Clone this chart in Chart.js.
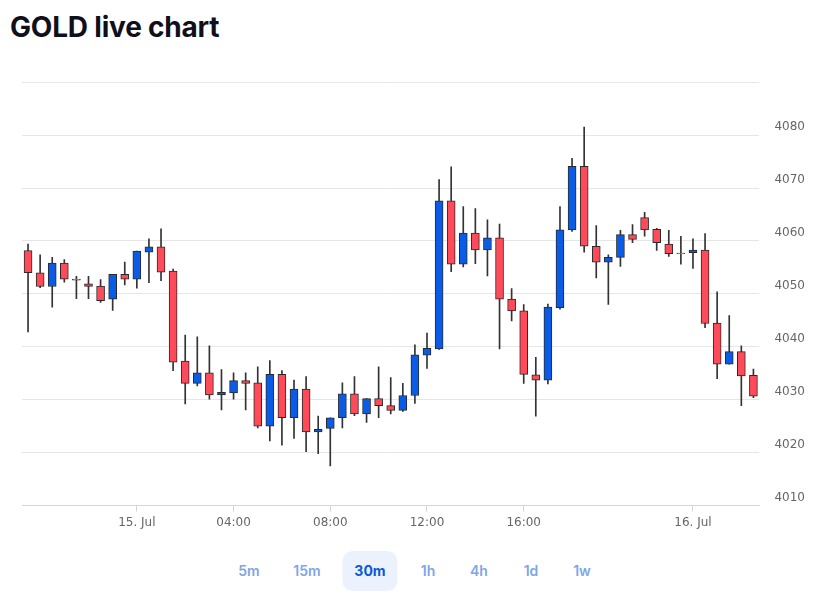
<!DOCTYPE html>
<html>
<head>
<meta charset="utf-8">
<title>GOLD live chart</title>
<script src="https://cdn.jsdelivr.net/npm/chart.js@4.4.1/dist/chart.umd.min.js"></script>
<style>
  body { margin: 0; background: #fff; width: 829px; height: 599px; position: relative; overflow: hidden; }
  h1 { position: absolute; left: 10px; top: 10px; margin: 0; font: 700 28px "Inter", sans-serif; color: #10101c; letter-spacing: -0.2px; }
  #wrap { position: absolute; left: 0; top: 60px; width: 829px; height: 480px; }
  .btn { position: absolute; top: 551px; height: 40px; transform: translateX(-50%);
         font: 600 14px "Inter", sans-serif; line-height: 40px; color: #7ea6e8; padding: 0 12px; border-radius: 10px; }
  .btn.active { background: #ebf2fe; color: #0a58db; font-weight: 700; }
</style>
</head>
<body>
<h1>GOLD live chart</h1>
<div id="wrap"><canvas id="candleChart" width="829" height="480"></canvas></div>
<div id="buttons"></div>

<script>
// 30 minute candles, 14 Jul 19:30 -> 16 Jul 02:30 (no candles 21:00-21:30)
const times = [
  "19:30","20:00","20:30","21:00","21:30","22:00","22:30","23:00","23:30",
  "00:00","00:30","01:00","01:30","02:00","02:30","03:00","03:30","04:00","04:30",
  "05:00","05:30","06:00","06:30","07:00","07:30","08:00","08:30","09:00","09:30",
  "10:00","10:30","11:00","11:30","12:00","12:30","13:00","13:30","14:00","14:30",
  "15:00","15:30","16:00","16:30","17:00","17:30","18:00","18:30","19:00","19:30",
  "20:00","20:30","22:00","22:30","23:00","23:30","00:00","00:30","01:00","01:30",
  "02:00","02:30"
];

const opens = [
  4058.2, 4054.0, 4051.4, 4055.8, 4052.8, 4051.9, 4051.5, 4049.0, 4053.7, 4052.8,
  4057.9, 4058.9, 4054.3, 4037.3, 4033.1, 4035.1, 4030.9, 4031.3, 4033.6, 4033.2,
  4025.0, 4034.8, 4026.6, 4032.0, 4023.9, 4024.6, 4026.6, 4031.1, 4027.3, 4030.2,
  4028.9, 4028.0, 4030.8, 4038.4, 4039.6, 4067.6, 4055.6, 4061.5, 4058.3, 4060.6,
  4049.0, 4046.8, 4034.7, 4033.7, 4047.4, 4062.1, 4074.1, 4059.0, 4056.0, 4056.9,
  4061.2, 4064.4, 4062.2, 4059.4, 4057.7, 4057.8, 4058.3, 4044.5, 4036.7, 4039.1,
  4034.6
];
const highs = [
  4059.4, 4057.4, 4056.9, 4056.5, 4053.3, 4053.3, 4052.7, 4053.7, 4056.0, 4058.1,
  4060.4, 4062.3, 4054.7, 4042.2, 4041.9, 4040.2, 4035.7, 4035.1, 4035.1, 4036.2,
  4037.4, 4035.5, 4033.7, 4034.4, 4026.9, 4026.6, 4033.2, 4034.4, 4030.2, 4036.2,
  4034.2, 4033.1, 4040.4, 4042.6, 4071.6, 4074.0, 4066.5, 4066.1, 4064.0, 4063.2,
  4051.0, 4048.0, 4038.0, 4048.1, 4066.5, 4075.6, 4081.5, 4062.9, 4057.4, 4062.0,
  4063.1, 4065.4, 4062.4, 4062.0, 4060.9, 4060.4, 4061.4, 4050.4, 4045.9, 4040.2,
  4035.8
];
const lows = [
  4042.8, 4051.2, 4047.5, 4052.2, 4049.1, 4049.1, 4048.4, 4046.9, 4051.7, 4051.1,
  4052.1, 4052.5, 4035.5, 4029.2, 4032.6, 4030.1, 4028.1, 4030.1, 4028.1, 4024.7,
  4022.2, 4021.4, 4022.7, 4020.2, 4019.8, 4017.5, 4024.7, 4027.0, 4025.7, 4026.6,
  4027.3, 4027.8, 4029.3, 4035.9, 4039.5, 4054.2, 4055.1, 4055.7, 4053.4, 4039.6,
  4044.9, 4033.1, 4026.9, 4033.0, 4047.1, 4061.8, 4057.9, 4053.0, 4048.0, 4055.2,
  4059.7, 4060.9, 4058.2, 4057.1, 4055.6, 4054.8, 4043.6, 4034.0, 4036.7, 4028.9,
  4030.4
];
const closes = [
  4054.0, 4051.4, 4055.8, 4052.8, 4052.6, 4051.4, 4048.7, 4053.7, 4052.8, 4058.1,
  4058.9, 4054.1, 4037.1, 4033.1, 4035.1, 4030.9, 4031.4, 4033.6, 4033.1, 4025.0,
  4034.8, 4026.6, 4032.0, 4023.9, 4024.4, 4026.6, 4031.1, 4027.3, 4030.2, 4028.9,
  4028.0, 4030.8, 4038.5, 4039.7, 4067.6, 4055.6, 4061.5, 4058.3, 4060.6, 4049.0,
  4046.8, 4034.8, 4033.7, 4047.5, 4062.1, 4074.1, 4059.0, 4056.0, 4056.9, 4061.2,
  4060.3, 4062.1, 4059.7, 4057.6, 4057.6, 4058.3, 4044.4, 4036.7, 4039.1, 4034.5,
  4030.7
];

// x axis labels: candle index -> text
const tickIndexes = [9, 17, 25, 33, 41, 55];
const tickTexts = ["15. Jul", "04:00", "08:00", "12:00", "16:00", "16. Jul"];

const intervals = ["5m", "15m", "30m", "1h", "4h", "1d", "1w"];
const activeInterval = "30m";

const UP = "#0a5ce6";
const DOWN = "#ff4a5a";

// buttons under the chart
const btnCenters = [249, 307, 370, 428, 479, 531, 582];
const buttons = document.getElementById("buttons");
intervals.forEach((name, i) => {
    const b = document.createElement("span");
    b.className = "btn" + (name === activeInterval ? " active" : "");
    b.textContent = name;
    b.style.left = btnCenters[i] + "px";
    buttons.appendChild(b);
});

const bodies = opens.map((o, i) => [o, closes[i]]);
const wicks = lows.map((l, i) => [l, highs[i]]);
const bodyColors = opens.map((o, i) => (closes[i] > o ? UP : DOWN));

new Chart(document.getElementById("candleChart"), {
    type: "bar",
    data: {
        labels: times,
        datasets: [
            {
                label: "body",
                data: bodies,
                backgroundColor: bodyColors,
                borderColor: "#2a2a2a",
                borderWidth: 1,
                borderSkipped: false,
                barThickness: 8,
                grouped: false,
                order: 0,
            },
            {
                label: "wick",
                data: wicks,
                backgroundColor: "#333",
                borderWidth: 0,
                barThickness: 1,
                grouped: false,
                order: 1,
            },
        ],
    },
    options: {
        responsive: false,
        animation: false,
        layout: { padding: { left: 22, right: 9, top: 22, bottom: 6 } },
        plugins: {
            legend: { display: false },
            tooltip: { enabled: false },
        },
        scales: {
            x: {
                offset: true,
                grid: {
                    offset: false,
                    drawOnChartArea: false,
                    drawTicks: true,
                    tickLength: 6,
                    color: (ctx) => (tickIndexes.includes(ctx.index) ? "#ccd6eb" : "transparent"),
                },
                border: { display: true, color: "#ccd6eb", width: 1 },
                ticks: {
                    autoSkip: false,
                    maxRotation: 0,
                    padding: 4,
                    color: "#666",
                    font: { family: "DejaVu Sans", size: 12 },
                    callback: (val, i) => {
                        const k = tickIndexes.indexOf(i);
                        return k >= 0 ? tickTexts[k] : "";
                    },
                },
            },
            y: {
                position: "right",
                min: 4010,
                max: 4090,
                grid: { color: "#e6e6e6", drawTicks: false },
                border: { display: false },
                ticks: {
                    stepSize: 10,
                    padding: 15,
                    labelOffset: -8,
                    color: "#666",
                    font: { family: "DejaVu Sans", size: 12 },
                    callback: (v) => (v === 4090 ? "" : v),
                },
            },
        },
    },
});
</script>
</body>
</html>
